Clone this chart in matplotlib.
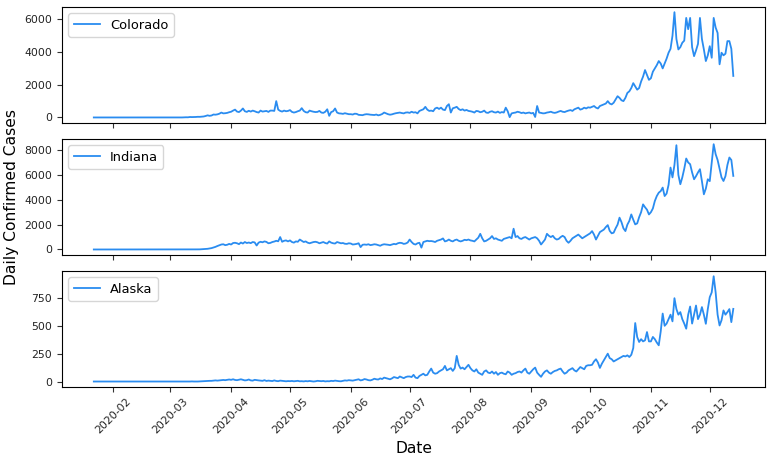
import matplotlib
matplotlib.use("Agg")
import matplotlib.pyplot as plt
import matplotlib.dates as mdates
import pandas as pd

start_date = "2020-01-22"
end_date = "2020-12-13"
states = ["Colorado", "Indiana", "Alaska"]

colorado = [
    # Jan 22-31
    0, 0, 0, 0, 0, 0, 0, 0, 0, 0,
    # Feb
    0, 0, 0, 0, 0, 0, 0, 0, 0, 0, 0, 0, 0, 0, 0, 0, 0, 0, 0, 0, 0, 0, 0, 0, 0, 0, 0, 0, 0,
    # Mar
    0, 0, 0, 0, 2, 4, 1, 8, 12, 10, 28, 23, 25, 30, 40, 38, 50, 60, 90, 130,
    100, 120, 180, 170, 190, 230, 300, 250, 260, 280, 320,
    # Apr
    350, 420, 480, 360, 330, 420, 550, 380, 340, 410, 360, 420, 380, 330, 300,
    420, 360, 380, 400, 340, 420, 420, 400, 1000, 480, 400, 360, 420, 380, 400,
    # May
    450, 340, 300, 330, 380, 420, 570, 400, 320, 300, 420, 380, 350, 330, 340, 400,
    300, 280, 350, 500, 100, 330, 380, 550, 300, 250, 240, 220, 260, 230, 200,
    # Jun
    200, 180, 230, 220, 160, 150, 140, 180, 200, 190, 170, 160, 150, 180, 130,
    160, 210, 300, 250, 200, 170, 190, 230, 260, 280, 300, 270, 250, 300, 310,
    # Jul
    280, 350, 300, 320, 250, 400, 450, 500, 650, 480, 400, 420, 380, 550, 600, 520,
    600, 480, 450, 700, 810, 300, 560, 600, 650, 520, 450, 500, 420, 460, 400,
    # Aug
    380, 350, 300, 400, 380, 320, 350, 420, 300, 280, 350, 380, 320, 300, 360, 280,
    330, 300, 600, 380, 20, 250, 280, 300, 350, 320, 270, 300, 250, 280, 300,
    # Sep
    250, 280, 30, 700, 300, 280, 250, 260, 300, 320, 350, 300, 280, 310, 360,
    400, 350, 330, 380, 420, 450, 400, 500, 550, 600, 480, 520, 600, 550, 620,
    # Oct
    600, 650, 700, 600, 550, 700, 750, 800, 850, 1000, 850, 800, 900, 1100, 1300, 1200,
    1050, 1000, 1200, 1500, 1600, 1800, 2100, 1900, 1700, 1800, 2200, 2500, 2900, 2600, 2300,
    # Nov
    2400, 2800, 3000, 3200, 3450, 3300, 3000, 3300, 3600, 3960, 4200, 5000, 6440, 4800, 4160,
    4300, 4570, 4700, 6090, 5400, 6090, 4300, 3750, 4100, 4500, 6090, 4800, 4160, 3450, 3800,
    # Dec 1-13
    4360, 3650, 6090, 5500, 5170, 3250, 3960, 3800, 3900, 4670, 4670, 4200, 2540,
]

indiana = [
    # Jan 22-31
    0, 0, 0, 0, 0, 0, 0, 0, 0, 0,
    # Feb
    0, 0, 0, 0, 0, 0, 0, 0, 0, 0, 0, 0, 0, 0, 0, 0, 0, 0, 0, 0, 0, 0, 0, 0, 0, 0, 0, 0, 0,
    # Mar
    0, 0, 0, 0, 0, 1, 0, 1, 2, 4, 2, 3, 5, 8, 9, 10, 20, 30, 40, 55,
    80, 110, 160, 210, 280, 340, 400, 420, 350, 380, 450,
    # Apr
    400, 520, 540, 500, 430, 560, 480, 600, 520, 560, 510, 600, 570, 320, 550,
    620, 580, 650, 610, 500, 530, 600, 640, 700, 660, 1000, 620, 700, 730, 650,
    # May
    730, 600, 550, 650, 620, 800, 700, 600, 650, 550, 500, 550, 600, 620, 580, 500,
    550, 600, 520, 480, 650, 550, 500, 480, 600, 550, 500, 520, 460, 450, 500,
    # Jun
    480, 400, 420, 450, 500, 190, 380, 400, 380, 420, 350, 380, 420, 400, 350,
    300, 380, 420, 400, 380, 350, 400, 450, 420, 500, 540, 520, 450, 480, 560,
    # Jul
    800, 600, 450, 400, 500, 540, 150, 600, 650, 700, 670, 680, 650, 600, 700, 750,
    800, 890, 650, 700, 800, 700, 650, 750, 800, 700, 650, 700, 780, 750, 800,
    # Aug
    730, 700, 650, 800, 950, 1260, 900, 650, 700, 800, 900, 1080, 850, 900, 800, 750,
    700, 850, 900, 950, 1000, 900, 1670, 1000, 1080, 900, 850, 950, 1000, 900, 800,
    # Sep
    900, 950, 1000, 900, 700, 400, 600, 800, 1260, 1100, 1000, 1100, 900, 800, 850,
    1000, 1100, 1000, 700, 540, 700, 900, 1000, 1100, 1200, 1050, 900, 1000, 1100, 1200,
    # Oct
    1300, 1480, 1200, 800, 1100, 1400, 1500, 1600, 1800, 1960, 1500, 1300, 1350, 1700, 2000, 2560,
    2200, 1700, 1480, 2000, 2300, 2820, 2400, 2020, 2100, 2600, 3000, 3630, 3400, 3200, 2820,
    # Nov
    3000, 3300, 3900, 4300, 4570, 4700, 4980, 4300, 4500, 5200, 6590, 5800, 6800, 8390, 6000,
    5250, 5800, 6500, 7320, 7000, 6860, 6200, 5650, 5900, 6200, 6460, 5500, 4440, 4900, 5650,
    # Dec 1-13
    5500, 7000, 8470, 7670, 7200, 6500, 5800, 5510, 5900, 6800, 7400, 7200, 5920,
]

alaska = [
    # Jan 22-31
    0, 0, 0, 0, 0, 0, 0, 0, 0, 0,
    # Feb
    0, 0, 0, 0, 0, 0, 0, 0, 0, 0, 0, 0, 0, 0, 0, 0, 0, 0, 0, 0, 0, 0, 0, 0, 0, 0, 0, 0, 0,
    # Mar
    0, 0, 0, 0, 0, 0, 0, 0, 0, 0, 0, 1, 0, 0, 0, 1, 2, 3, 4, 5, 6,
    6, 8, 10, 8, 10, 12, 14, 12, 15, 18,
    # Apr
    15, 20, 14, 12, 16, 20, 15, 10, 12, 18, 10, 8, 15, 12, 10,
    8, 6, 12, 5, 8, 6, 4, 10, 5, 3, 8, 6, 5, 2, 4,
    # May
    3, 5, 2, 4, 6, 2, 3, 1, 4, 2, 5, 3, 0, 2, 6, 4,
    3, 5, 1, 3, 2, 6, 4, 8, 5, 3, 2, 6, 10, 8, 12,
    # Jun
    10, 8, 12, 15, 20, 10, 14, 22, 18, 12, 10, 16, 25, 20, 18,
    28, 22, 35, 30, 25, 20, 28, 40, 35, 30, 45, 38, 30, 40, 45,
    # Jul
    45, 40, 60, 35, 30, 50, 60, 70, 55, 60, 90, 116, 80, 70, 75, 90,
    100, 110, 140, 100, 110, 120, 95, 120, 230, 150, 116, 125, 110, 130, 150,
    # Aug
    120, 100, 90, 110, 80, 70, 60, 90, 100, 80, 75, 90, 70, 85, 60, 75,
    80, 70, 65, 90, 80, 60, 70, 75, 85, 90, 80, 100, 116, 80, 70,
    # Sep
    90, 110, 125, 80, 60, 42, 70, 90, 100, 80, 70, 85, 95, 100, 110,
    116, 90, 70, 80, 100, 110, 120, 100, 90, 110, 130, 120, 110, 140, 146,
    # Oct
    146, 150, 180, 200, 170, 122, 160, 190, 220, 250, 210, 200, 180, 190, 200, 210,
    220, 230, 225, 235, 220, 240, 300, 525, 400, 355, 380, 360, 370, 444, 360,
    # Nov
    360, 400, 380, 350, 325, 450, 610, 500, 520, 560, 600, 540, 748, 650, 600,
    623, 560, 520, 474, 600, 673, 520, 600, 682, 560, 600, 668, 600, 518, 650,
    # Dec 1-13
    757, 800, 945, 800, 600, 503, 550, 638, 600, 623, 650, 533, 652,
]

dates = pd.date_range(start_date, end_date, freq="D")
series = [colorado, indiana, alaska]
for name, s in zip(states, series):
    assert len(s) == len(dates), f"{name}: {len(s)} vs {len(dates)}"

fig, axes = plt.subplots(3, 1, sharex=True, figsize=(7.73, 4.61), dpi=100)
fig.subplots_adjust(left=0.080, right=0.990, top=0.985, bottom=0.161, hspace=0.14)

for ax, name, s in zip(axes, states, series):
    ax.plot(dates, s, color="#2a8cf0", lw=1.3, label=name)
    ax.legend(loc="upper left", fontsize=9.4)
    ax.tick_params(axis="both", labelsize=7.8, colors="#333333", labelcolor="#222222")

axes[0].set_yticks([0, 2000, 4000, 6000])
axes[1].set_yticks([0, 2000, 4000, 6000, 8000])
axes[2].set_yticks([0, 250, 500, 750])

axes[2].xaxis.set_major_locator(mdates.MonthLocator())
axes[2].xaxis.set_major_formatter(mdates.DateFormatter("%Y-%m"))
for lbl in axes[2].get_xticklabels():
    lbl.set_rotation(45)

axes[1].set_ylabel("Daily Confirmed Cases", fontsize=11.2)
axes[2].set_xlabel("Date", fontsize=11.2)

fig.savefig("out.png", dpi=100)
